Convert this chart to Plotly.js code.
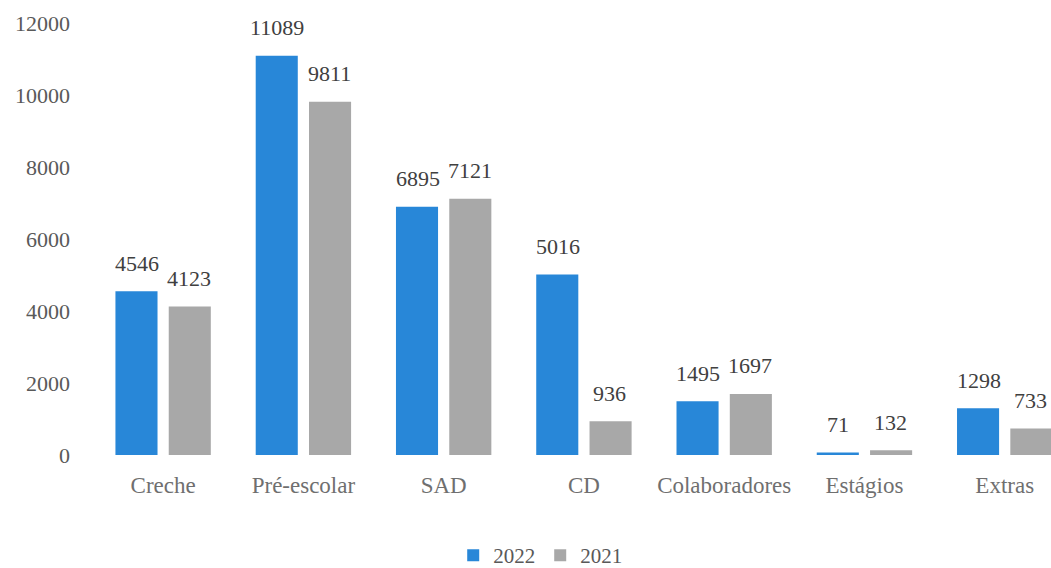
<!DOCTYPE html>
<html>
<head>
<meta charset="utf-8">
<script src="https://cdn.plot.ly/plotly-3.0.1.min.js"></script>
<style>html,body{margin:0;padding:0;background:#fff;}#chart{width:1051px;height:568px;}</style>
</head>
<body>
<div id="chart"></div>
<script>
const categories = ["Creche", "Pré-escolar", "SAD", "CD", "Colaboradores", "Estágios", "Extras"];
const values2022 = [4546, 11089, 6895, 5016, 1495, 71, 1298];
const values2021 = [4123, 9811, 7121, 936, 1697, 132, 733];
const seriesNames = ["2022", "2021"];
const yTicks = [0, 2000, 4000, 6000, 8000, 10000, 12000];

const FONT = "'Liberation Serif', 'DejaVu Serif', 'Times New Roman', serif";
const BAR_W = 0.3;

const traces = [
  {
    type: "bar", name: seriesNames[0], x: categories, y: values2022,
    width: BAR_W, offset: -0.34,
    marker: {color: "#2887d8"},
    hoverinfo: "x+y"
  },
  {
    type: "bar", name: seriesNames[1], x: categories, y: values2021,
    width: BAR_W, offset: 0.04,
    marker: {color: "#a8a8a8"},
    hoverinfo: "x+y"
  }
];

const annotations = [];
categories.forEach((c, i) => {
  annotations.push({x: c, y: values2022[i], xref: "x", yref: "y", text: String(values2022[i]),
    showarrow: false, xshift: -26, yshift: 28, yanchor: "middle",
    font: {family: FONT, size: 22, color: "#404040"}});
  annotations.push({x: c, y: values2021[i], xref: "x", yref: "y", text: String(values2021[i]),
    showarrow: false, xshift: 26, yshift: 28, yanchor: "middle",
    font: {family: FONT, size: 22, color: "#404040"}});
});

const layout = {
  width: 1051, height: 568,
  paper_bgcolor: "#ffffff", plot_bgcolor: "#ffffff",
  margin: {l: 93, r: 0, t: 23, b: 113},
  font: {family: FONT, color: "#595959"},
  barmode: "group",
  showlegend: true,
  legend: {
    orientation: "h", xref: "container", yref: "container",
    x: 0.514, xanchor: "center", y: 0.022, yanchor: "middle",
    font: {family: FONT, size: 21, color: "#595959"},
    itemwidth: 30, traceorder: "normal"
  },
  xaxis: {
    type: "category", range: [-0.5, 6.33],
    showgrid: false, zeroline: false, showline: false,
    ticks: "", ticklabelstandoff: 14,
    tickfont: {family: FONT, size: 23, color: "#6f6f6f"}
  },
  yaxis: {
    range: [0, 12000], tickvals: yTicks, ticktext: yTicks.map(String),
    showgrid: false, zeroline: false, showline: false,
    ticks: "", ticklabelstandoff: 22,
    tickfont: {family: FONT, size: 22, color: "#595959"}
  },
  annotations: annotations
};

Plotly.newPlot("chart", traces, layout, {displayModeBar: false, staticPlot: true});
</script>
</body>
</html>
